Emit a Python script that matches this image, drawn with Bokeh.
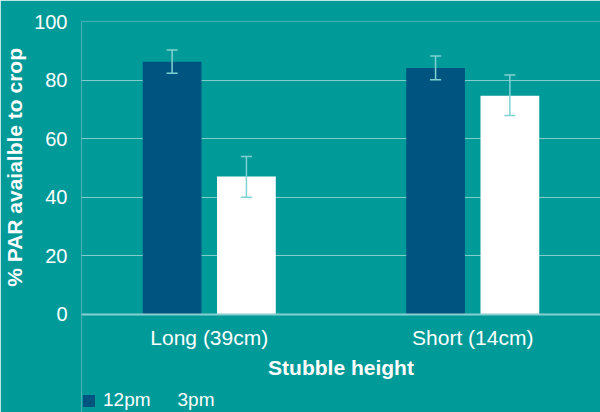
from bokeh.plotting import figure
from bokeh.models import (ColumnDataSource, FactorRange, Range1d, FixedTicker,
                          Whisker, TeeHead, Legend, LegendItem)
from bokeh.transform import dodge
from bokeh.embed import file_html
from bokeh.resources import INLINE

# ---- data ----
categories = ["Long (39cm)", "Short (14cm)"]
pm12 = [86.3, 84.1]
pm12_lower = [82.3, 80.1]
pm12_upper = [90.3, 88.2]
pm3 = [47.1, 74.7]
pm3_lower = [40.0, 67.9]
pm3_upper = [53.9, 81.7]
y_ticks = [0, 20, 40, 60, 80, 100]
y_title = "% PAR avaialble to crop"
x_title = "Stubble height"
series_names = ["12pm", "3pm"]

BG = "#009a99"
DARK = "#005580"
ERR = "#80d2d2"
FONT = "Liberation Sans"

src = ColumnDataSource(dict(cat=categories, pm12=pm12, pm12_lo=pm12_lower, pm12_hi=pm12_upper,
                            pm3=pm3, pm3_lo=pm3_lower, pm3_hi=pm3_upper))

x_range = FactorRange(factors=categories, range_padding=-0.015, range_padding_units="absolute")
# frame runs below zero so the axis titles and legend sit inside it; axis fixed at y=0
p = figure(x_range=x_range, y_range=Range1d(-33.45, 100),
           width=600, height=412,
           output_backend="svg", toolbar_location=None,
           min_border_left=80, min_border_right=0, min_border_top=21, min_border_bottom=0)

p.background_fill_color = BG
p.border_fill_color = BG
p.outline_line_color = None

off = 0.141
w = 0.223
r12 = p.vbar(x=dodge("cat", -off, range=p.x_range), top="pm12", width=w, source=src,
             fill_color=DARK, line_color=None)
r3 = p.vbar(x=dodge("cat", off, range=p.x_range), top="pm3", width=w, source=src,
            fill_color="white", line_color=None)

for o, lo, hi in [(-off, "pm12_lo", "pm12_hi"), (off, "pm3_lo", "pm3_hi")]:
    wk = Whisker(source=src, base=dodge("cat", o, range=p.x_range), lower=lo, upper=hi,
                 line_color=ERR, line_width=1.5, level="annotation",
                 upper_head=TeeHead(size=11, line_color=ERR, line_width=1.5),
                 lower_head=TeeHead(size=11, line_color=ERR, line_width=1.5))
    p.add_layout(wk)

dummy = p.scatter(x=[], y=[], marker="square", fill_alpha=0, line_alpha=0)

# grid
p.xgrid.grid_line_color = None
p.ygrid.grid_line_color = "white"
p.ygrid.grid_line_alpha = 0.5
p.ygrid.grid_line_width = 1
p.yaxis.ticker = FixedTicker(ticks=y_ticks)

# axes
p.yaxis.axis_line_color = None
p.yaxis.major_tick_line_color = None
p.yaxis.minor_tick_line_color = None
p.yaxis.major_label_standoff = 8
p.yaxis.major_label_text_color = "white"
p.yaxis.major_label_text_font = FONT
p.yaxis.major_label_text_font_size = "20px"
# leading no-break spaces lift the title so it centres on the 0-100 part of the axis
p.yaxis.axis_label = "\u00a0" * 17 + y_title
p.yaxis.axis_label_text_color = "white"
p.yaxis.axis_label_text_font = FONT
p.yaxis.axis_label_text_font_style = "bold"
p.yaxis.axis_label_text_font_size = "21px"
p.yaxis.axis_label_standoff = 5

xa = p.xaxis[0]
xa.fixed_location = 0
xa.axis_line_color = "#88d0d0"
xa.axis_line_width = 2
xa.major_tick_line_color = None
xa.minor_tick_line_color = None
xa.major_label_standoff = 6
xa.major_label_text_color = "white"
xa.major_label_text_font = FONT
xa.major_label_text_font_size = "21px"
xa.axis_label = x_title
xa.axis_label_text_color = "white"
xa.axis_label_text_font = FONT
xa.axis_label_text_font_style = "bold"
xa.axis_label_text_font_size = "21px"
xa.axis_label_standoff = 3

legend = Legend(items=[LegendItem(label=series_names[0], renderers=[r12]),
                       LegendItem(label=series_names[1], renderers=[dummy])],
                orientation="horizontal", location=(0, 1),
                background_fill_alpha=0, border_line_color=None,
                glyph_width=15, glyph_height=15, label_standoff=7, spacing=5,
                padding=0, margin=0,
                label_text_color="white", label_text_font=FONT,
                label_text_font_size="19px")
p.add_layout(legend)

open("out.html", "w").write(file_html(p, INLINE))
